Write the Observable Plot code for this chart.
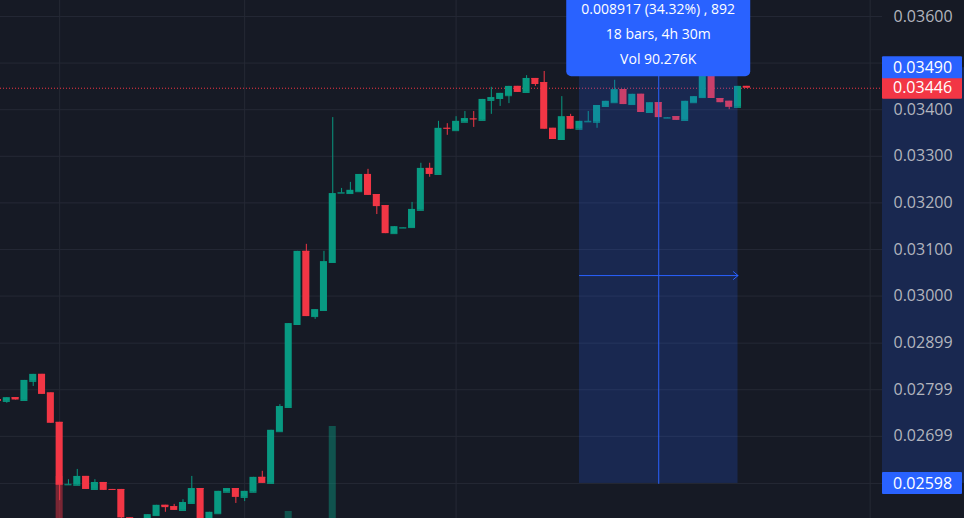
<!DOCTYPE html>
<html><head><meta charset="utf-8">
<script src="https://cdn.jsdelivr.net/npm/d3@7"></script>
<script src="https://cdn.jsdelivr.net/npm/@observablehq/plot@0.6"></script>
<style>
html,body{margin:0;padding:0;background:#161a25;}
#chart{position:relative;width:964px;height:518px;overflow:hidden;background:#161a25;}
#chart svg{position:absolute;left:0;top:0;}
</style></head><body><div id="chart"></div>
<script>
// ---- data (15-minute candles, index -1 .. 84) ----
const firstIndex = -1;
const opens  = [0.02778,0.02774,0.02782,0.02776,0.02817,0.02832,0.02792,0.02729,0.02595,0.02594,0.02613,0.02585,0.02600,0.02585,0.02585,0.02524,0.02490,0.02508,0.02529,0.02551,0.02548,0.02540,0.02555,0.02587,0.02508,0.02533,0.02579,0.02587,0.02568,0.02579,0.02611,0.02598,0.02709,0.02761,0.02939,0.03096,0.02956,0.02969,0.03072,0.03221,0.03220,0.03224,0.03261,0.03218,0.03194,0.03134,0.03146,0.03147,0.03184,0.03274,0.03261,0.03360,0.03355,0.03373,0.03380,0.03377,0.03420,0.03424,0.03430,0.03450,0.03437,0.03467,0.03458,0.03360,0.03336,0.03385,0.03358,0.03374,0.03373,0.03407,0.03415,0.03443,0.03411,0.03433,0.03394,0.03415,0.03382,0.03385,0.03377,0.03415,0.03426,0.03480,0.03424,0.03418,0.03405,0.03450];
const highs  = [0.02778,0.02782,0.02782,0.02819,0.02832,0.02832,0.02792,0.02729,0.02606,0.02628,0.02613,0.02606,0.02600,0.02585,0.02585,0.02524,0.02512,0.02531,0.02551,0.02551,0.02553,0.02563,0.02613,0.02587,0.02536,0.02581,0.02587,0.02587,0.02581,0.02611,0.02624,0.02712,0.02767,0.02941,0.03096,0.03111,0.02971,0.03096,0.03383,0.03231,0.03244,0.03261,0.03272,0.03218,0.03194,0.03149,0.03147,0.03201,0.03285,0.03285,0.03375,0.03370,0.03385,0.03396,0.03396,0.03422,0.03448,0.03435,0.03450,0.03450,0.03473,0.03467,0.03482,0.03360,0.03428,0.03390,0.03375,0.03396,0.03409,0.03418,0.03463,0.03443,0.03433,0.03433,0.03415,0.03415,0.03383,0.03385,0.03418,0.03428,0.03490,0.03480,0.03424,0.03418,0.03450,0.03450];
const lows   = [0.02774,0.02770,0.02777,0.02776,0.02806,0.02789,0.02727,0.02561,0.02595,0.02594,0.02585,0.02585,0.02583,0.02584,0.02520,0.02480,0.02485,0.02505,0.02529,0.02536,0.02540,0.02540,0.02555,0.02500,0.02505,0.02533,0.02579,0.02555,0.02559,0.02579,0.02598,0.02598,0.02709,0.02761,0.02939,0.02956,0.02950,0.02969,0.03072,0.03221,0.03220,0.03224,0.03216,0.03175,0.03134,0.03134,0.03146,0.03147,0.03184,0.03255,0.03261,0.03345,0.03355,0.03373,0.03362,0.03377,0.03390,0.03407,0.03413,0.03437,0.03437,0.03450,0.03358,0.03336,0.03336,0.03358,0.03358,0.03374,0.03360,0.03407,0.03415,0.03411,0.03411,0.03394,0.03394,0.03383,0.03382,0.03377,0.03377,0.03415,0.03426,0.03424,0.03415,0.03400,0.03405,0.03446];
const closes = [0.02774,0.02782,0.02777,0.02819,0.02832,0.02789,0.02727,0.02594,0.02596,0.02613,0.02585,0.02600,0.02583,0.02584,0.02524,0.02490,0.02510,0.02531,0.02551,0.02546,0.02540,0.02557,0.02587,0.02508,0.02536,0.02581,0.02587,0.02568,0.02581,0.02611,0.02598,0.02712,0.02763,0.02941,0.03096,0.02956,0.02971,0.03074,0.03220,0.03222,0.03227,0.03261,0.03216,0.03192,0.03134,0.03149,0.03147,0.03186,0.03274,0.03261,0.03360,0.03359,0.03375,0.03381,0.03379,0.03422,0.03426,0.03435,0.03450,0.03437,0.03467,0.03454,0.03358,0.03336,0.03385,0.03358,0.03375,0.03375,0.03409,0.03418,0.03443,0.03411,0.03433,0.03394,0.03415,0.03383,0.03383,0.03377,0.03418,0.03428,0.03484,0.03424,0.03415,0.03405,0.03450,0.03446];

// visible volume bars (bar index, volume in K)
const volIndex = [6, 32, 37];
const volValue = [252, 147, 402];
const volUp    = [false, true, true];

// price axis: grid lines and the tick labels that are visible
const gridTicks   = [0.036, 0.035, 0.034, 0.033, 0.032, 0.031, 0.030, 0.02899, 0.02799, 0.02699, 0.02598];
const yTicks      = [0.036, 0.034, 0.033, 0.032, 0.031, 0.030, 0.02899, 0.02799, 0.02699];
const yTickLabels = ["0.03600","0.03400","0.03300","0.03200","0.03100","0.03000","0.02899","0.02799","0.02699"];
const xGridIndex  = [6, 27, 51, 98];
const lastPrice = 0.03446;

// measure tool
const measureStartIndex = 65, measureEndIndex = 83;
const measureFrom = 0.02598, measureTo = 0.03490;
const tooltipLines = ["0.008917 (34.32%) , 892", "18 bars, 4h 30m", "Vol 90.276K"];

// price-scale labels
const labelValues = [0.03446, 0.03490, 0.02598];
const labelTexts  = ["0.03446", "0.03490", "0.02598"];
const labelColors = ["#f23645", "#2962ff", "#2962ff"];

// ---- build ----
const UP = "#089981", DOWN = "#f23645";
const bars = opens.map((o, k) => ({i: firstIndex + k, open: o, high: highs[k], low: lows[k], close: closes[k], up: closes[k] >= o}));
const vols = volIndex.map((i, k) => ({i, v: volValue[k], up: volUp[k]}));
const col = d => d.up ? UP : DOWN;
const W = 964, H = 518, MR = 82;
const xOpt = {domain: [-0.715, 99.4], axis: null};
const yOpt = {domain: [0.025227, 0.036343]};
const style = {background: "transparent", fontFamily: "Open Sans", fontSize: "16px", color: "#b2b5be", overflow: "hidden"};
const chart = document.getElementById("chart");

// layer 1: grid
const gridPlot = Plot.plot({
  width: W, height: H, marginLeft: 0, marginRight: MR, marginTop: 0, marginBottom: 0,
  x: xOpt, y: {...yOpt, axis: null}, style,
  marks: [
    Plot.gridY(gridTicks, {stroke: "#252935", strokeOpacity: 1}),
    Plot.gridX(xGridIndex, {stroke: "#252935", strokeOpacity: 1})
  ]
});
chart.appendChild(gridPlot);

// layer 2: volume
const volPlot = Plot.plot({
  width: W, height: H, marginLeft: 0, marginRight: MR, marginTop: 0, marginBottom: 0,
  x: xOpt, y: {domain: [0, 600], range: [560, 360], axis: null}, style,
  marks: [
    Plot.rect(vols, {x1: d => d.i - 0.4, x2: d => d.i + 0.4, y1: () => 0, y2: "v", fill: col, fillOpacity: 0.45})
  ]
});
chart.appendChild(volPlot);

// layer 3: candles, measure, axis
const mid = (measureFrom + measureTo) / 2;
const midIdx = (measureStartIndex + measureEndIndex) / 2;
const plot = Plot.plot({
  width: W, height: H, marginLeft: 0, marginRight: MR, marginTop: 0, marginBottom: 0,
  x: xOpt, y: yOpt, style,
  marks: [
    Plot.ruleY([lastPrice], {stroke: "#f23645", strokeDasharray: "1,2", strokeWidth: 1}),
    Plot.ruleX(bars, {x: "i", y1: "low", y2: "high", stroke: col, strokeWidth: 1}),
    Plot.rect(bars, {x1: d => d.i - 0.4, x2: d => d.i + 0.4, y1: "open", y2: "close", fill: col}),
    Plot.ruleY(bars, {y: "open", x1: d => d.i - 0.4, x2: d => d.i + 0.4, stroke: col}),
    Plot.rect([0], {x1: () => measureStartIndex, x2: () => measureEndIndex, y1: () => measureFrom, y2: () => measureTo, fill: "#2962ff", fillOpacity: 0.2}),
    Plot.arrow([0], {x1: () => measureStartIndex, x2: () => measureEndIndex, y1: () => mid, y2: () => mid, stroke: "#2962ff", strokeWidth: 1, headLength: 9, headAngle: 80}),
    Plot.arrow([0], {x1: () => midIdx, x2: () => midIdx, y1: () => measureFrom, y2: () => measureTo, stroke: "#2962ff", strokeWidth: 1, headLength: 9, headAngle: 80}),
    Plot.axisY({anchor: "right", ticks: yTicks, tickFormat: d => yTickLabels[yTicks.indexOf(d)], tickSize: 0, tickPadding: 11, fontSize: 16, label: null, fill: "#b2b5be"})
  ]
});
chart.appendChild(plot);

const sx = v => plot.scale("x").apply(v);
const sy = v => plot.scale("y").apply(v);
const svg = d3.select(plot);
const frameRight = W - MR;

// highlighted band on the price scale
svg.insert("rect", '[aria-label="y-axis tick label"]')
  .attr("x", frameRight).attr("width", MR)
  .attr("y", sy(measureTo)).attr("height", sy(measureFrom) - sy(measureTo))
  .attr("fill", "#2962ff").attr("fill-opacity", 0.2);

// price labels
labelValues.forEach((v, k) => {
  const g = svg.append("g").attr("text-anchor", "start");
  g.append("rect").attr("x", frameRight).attr("width", MR - 2)
    .attr("y", sy(v) - 11).attr("height", 22).attr("fill", labelColors[k]).attr("rx", 1);
  g.append("text").attr("x", frameRight + 11).attr("y", sy(v)).attr("dy", "0.35em")
    .attr("text-anchor", "start")
    .attr("fill", "#ffffff").attr("font-size", 16).attr("font-family", "Open Sans").text(labelTexts[k]);
});

// tooltip of the measure tool
const tipBottom = sy(measureTo) + 9;
const tx = sx(midIdx);
const tip = svg.append("g");
tip.append("rect").attr("x", tx - 92).attr("width", 184).attr("y", -20).attr("height", tipBottom + 20)
  .attr("rx", 5).attr("fill", "#2962ff");
[67, 42.5, 17.5].forEach((off, k) => {
  tip.append("text").attr("x", tx).attr("y", tipBottom - off).attr("dy", "0.35em")
    .attr("text-anchor", "middle").attr("fill", "#ffffff").attr("font-size", 14)
    .attr("font-family", "Open Sans").text(tooltipLines[k]);
});
</script></body></html>
